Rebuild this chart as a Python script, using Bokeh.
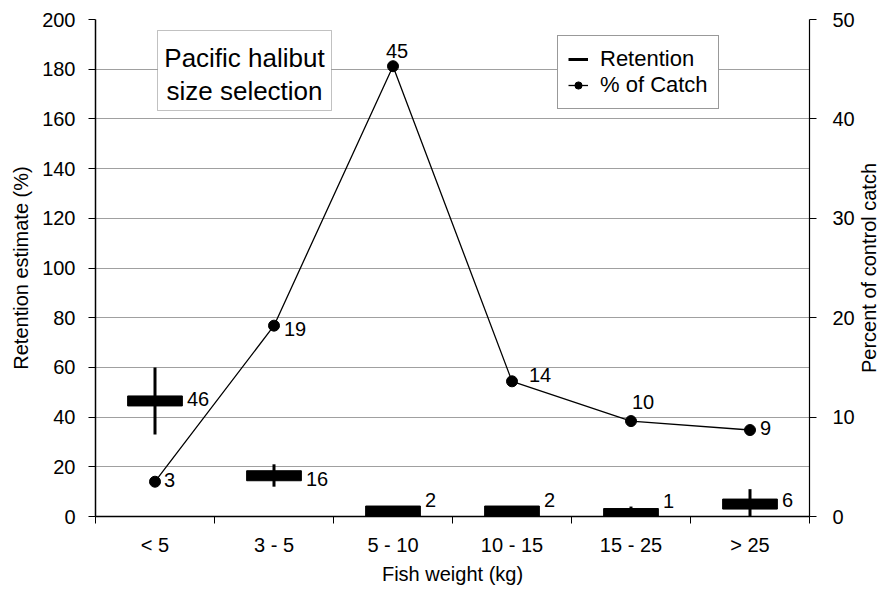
from bokeh.plotting import figure
from bokeh.layouts import row
from bokeh.models import (Range1d, LinearAxis, FixedTicker, Label, BoxAnnotation,
                          Legend, LegendItem, ColumnDataSource)
from bokeh.core.properties import value
from bokeh.embed import file_html
from bokeh.resources import INLINE

# ---- data ----
categories = ["< 5", "3 - 5", "5 - 10", "10 - 15", "15 - 25", "> 25"]
retention = [46.5, 16.4, 2.2, 2.2, 1.2, 5.0]
retention_low = [33, 12, 2.2, 2.2, -2, -1]
retention_high = [60, 21, 2.2, 2.2, 4, 11]
retention_labels = ["46", "16", "2", "2", "1", "6"]
catch_pct = [3.5, 19.2, 45.3, 13.6, 9.6, 8.7]
catch_labels = ["3", "19", "45", "14", "10", "9"]
left_ticks = [0, 20, 40, 60, 80, 100, 120, 140, 160, 180, 200]
right_ticks = [0, 10, 20, 30, 40, 50]

# ---- label placement (pixel styles) ----
ret_dx = 32
ret_dy = [-2, 3, -11, -11, -13, -4]
catch_dx = [9, 10, -7, 17, 1, 10]
catch_dy = [-2, 3, -15, -6, -19, -2]

FONT = "Liberation Sans"
FS = "20px"

xc = [i + 0.5 for i in range(len(categories))]

p = figure(width=857, height=589, output_backend="svg", toolbar_location=None,
           x_range=Range1d(0, len(categories)), y_range=Range1d(0, 200),
           min_border_left=95, min_border_right=46, min_border_top=19,
           min_border_bottom=73)
p.extra_y_ranges = {"catch": Range1d(0, 50)}
p.outline_line_color = None
p.background_fill_color = "white"
p.border_fill_color = "white"

# x axis
xa = p.xaxis[0]
xa.ticker = FixedTicker(ticks=xc, minor_ticks=list(range(len(categories) + 1)))
xa.major_label_overrides = {x: c for x, c in zip(xc, categories)}
xa.major_tick_out = 0
xa.major_tick_in = 0
xa.minor_tick_out = 7
xa.minor_tick_in = 0
xa.minor_tick_line_color = "black"
xa.axis_line_color = "black"
xa.axis_line_width = 1.5
xa.major_label_standoff = 10
xa.major_label_text_font = FONT
xa.major_label_text_font_size = FS
xa.major_label_text_color = "black"
xa.axis_label = "Fish weight (kg)"
xa.axis_label_standoff = 4
xa.axis_label_text_font = FONT
xa.axis_label_text_font_size = FS
xa.axis_label_text_font_style = "normal"
xa.axis_label_text_color = "black"

# left axis
ya = p.yaxis[0]
ya.ticker = FixedTicker(ticks=left_ticks)
ya.major_tick_out = 7
ya.major_tick_in = 0
ya.minor_tick_out = 0
ya.minor_tick_in = 0
ya.major_tick_line_color = "black"
ya.axis_line_color = "black"
ya.axis_line_width = 1.5
ya.major_label_standoff = 13
ya.major_label_text_font = FONT
ya.major_label_text_font_size = FS
ya.major_label_text_color = "black"
ya.axis_label = "Retention estimate (%)"
ya.axis_label_standoff = 7
ya.axis_label_text_font = FONT
ya.axis_label_text_font_size = FS
ya.axis_label_text_font_style = "normal"
ya.axis_label_text_color = "black"

# right axis
ra = LinearAxis(y_range_name="catch", ticker=FixedTicker(ticks=right_ticks))
ra.major_tick_out = 7
ra.major_tick_in = 0
ra.minor_tick_out = 0
ra.minor_tick_in = 0
ra.major_tick_line_color = "black"
ra.axis_line_color = "black"
ra.axis_line_width = 1.2
ra.major_label_standoff = 16
ra.major_label_text_font = FONT
ra.major_label_text_font_size = FS
ra.major_label_text_color = "black"
p.add_layout(ra, "right")

p.xgrid.visible = False
p.ygrid.grid_line_color = "#a0a0a0"
p.ygrid.grid_line_width = 1

# ---- glyphs ----
err_r = p.segment(x0=xc, y0=retention_low, x1=xc, y1=retention_high,
                  line_color="black", line_width=3)
p.rect(x=xc, y=retention, width=0.46, height=10, height_units="screen",
       fill_color="black", line_color="black")
line_r = p.line(x=xc, y=catch_pct, y_range_name="catch", line_color="black",
                line_width=1.3)
dot_r = p.scatter(x=xc, y=catch_pct, y_range_name="catch", size=11,
                  fill_color="black", line_color="black")

ret_src = ColumnDataSource(dict(x=xc, y=retention, t=retention_labels, dy=ret_dy))
p.text(x="x", y="y", text="t", source=ret_src, x_offset=ret_dx, y_offset="dy",
       text_font=value(FONT), text_font_size=FS, text_color="black",
       text_align="left", text_baseline="middle")

catch_src = ColumnDataSource(dict(x=xc, y=catch_pct, t=catch_labels,
                                  dx=catch_dx, dy=catch_dy))
p.text(x="x", y="y", text="t", source=catch_src, y_range_name="catch",
       x_offset="dx", y_offset="dy",
       text_font=value(FONT), text_font_size=FS, text_color="black",
       text_align="left", text_baseline="middle")

# ---- title box ----
box = BoxAnnotation(left=62, right=236, top=486, bottom=406,
                    left_units="screen", right_units="screen",
                    top_units="screen", bottom_units="screen",
                    fill_color="white", fill_alpha=1.0,
                    line_color="#333333", line_width=1)
p.add_layout(box)
for txt, yy in [("Pacific halibut", 459), ("size selection", 426)]:
    p.add_layout(Label(x=149, y=yy, x_units="screen", y_units="screen", text=txt,
                       text_align="center", text_baseline="alphabetic",
                       text_font=FONT, text_font_size="26px", text_color="black"))

# ---- legend ----
legend = Legend(items=[LegendItem(label="Retention", renderers=[err_r]),
                       LegendItem(label="% of Catch", renderers=[line_r, dot_r])],
                location=(462, 407), margin=0, padding=10, spacing=-3,
                glyph_width=20, glyph_height=18, label_height=18,
                label_standoff=12,
                border_line_color="#333333", border_line_width=1,
                background_fill_color="white", background_fill_alpha=1.0,
                label_text_font=FONT, label_text_font_size="22px",
                label_text_color="black")
p.add_layout(legend)

# ---- right-hand axis title (narrow companion panel) ----
p2 = figure(width=27, height=589, output_backend="svg", toolbar_location=None,
            x_range=Range1d(0, 1), y_range=Range1d(0, 1),
            x_axis_location=None, y_axis_location=None,
            min_border=0, min_border_left=0, min_border_right=0,
            min_border_top=0, min_border_bottom=0)
p2.outline_line_color = None
p2.xgrid.visible = False
p2.ygrid.visible = False
p2.background_fill_color = "white"
p2.border_fill_color = "white"
p2.add_layout(Label(x=11, y=248.5, x_units="screen", y_units="screen",
                    text="Percent of control catch", angle=90, angle_units="deg",
                    text_align="center", text_baseline="middle",
                    text_font=FONT, text_font_size=FS, text_color="black"))

layout = row(p, p2)
open("out.html", "w").write(file_html(layout, INLINE))
